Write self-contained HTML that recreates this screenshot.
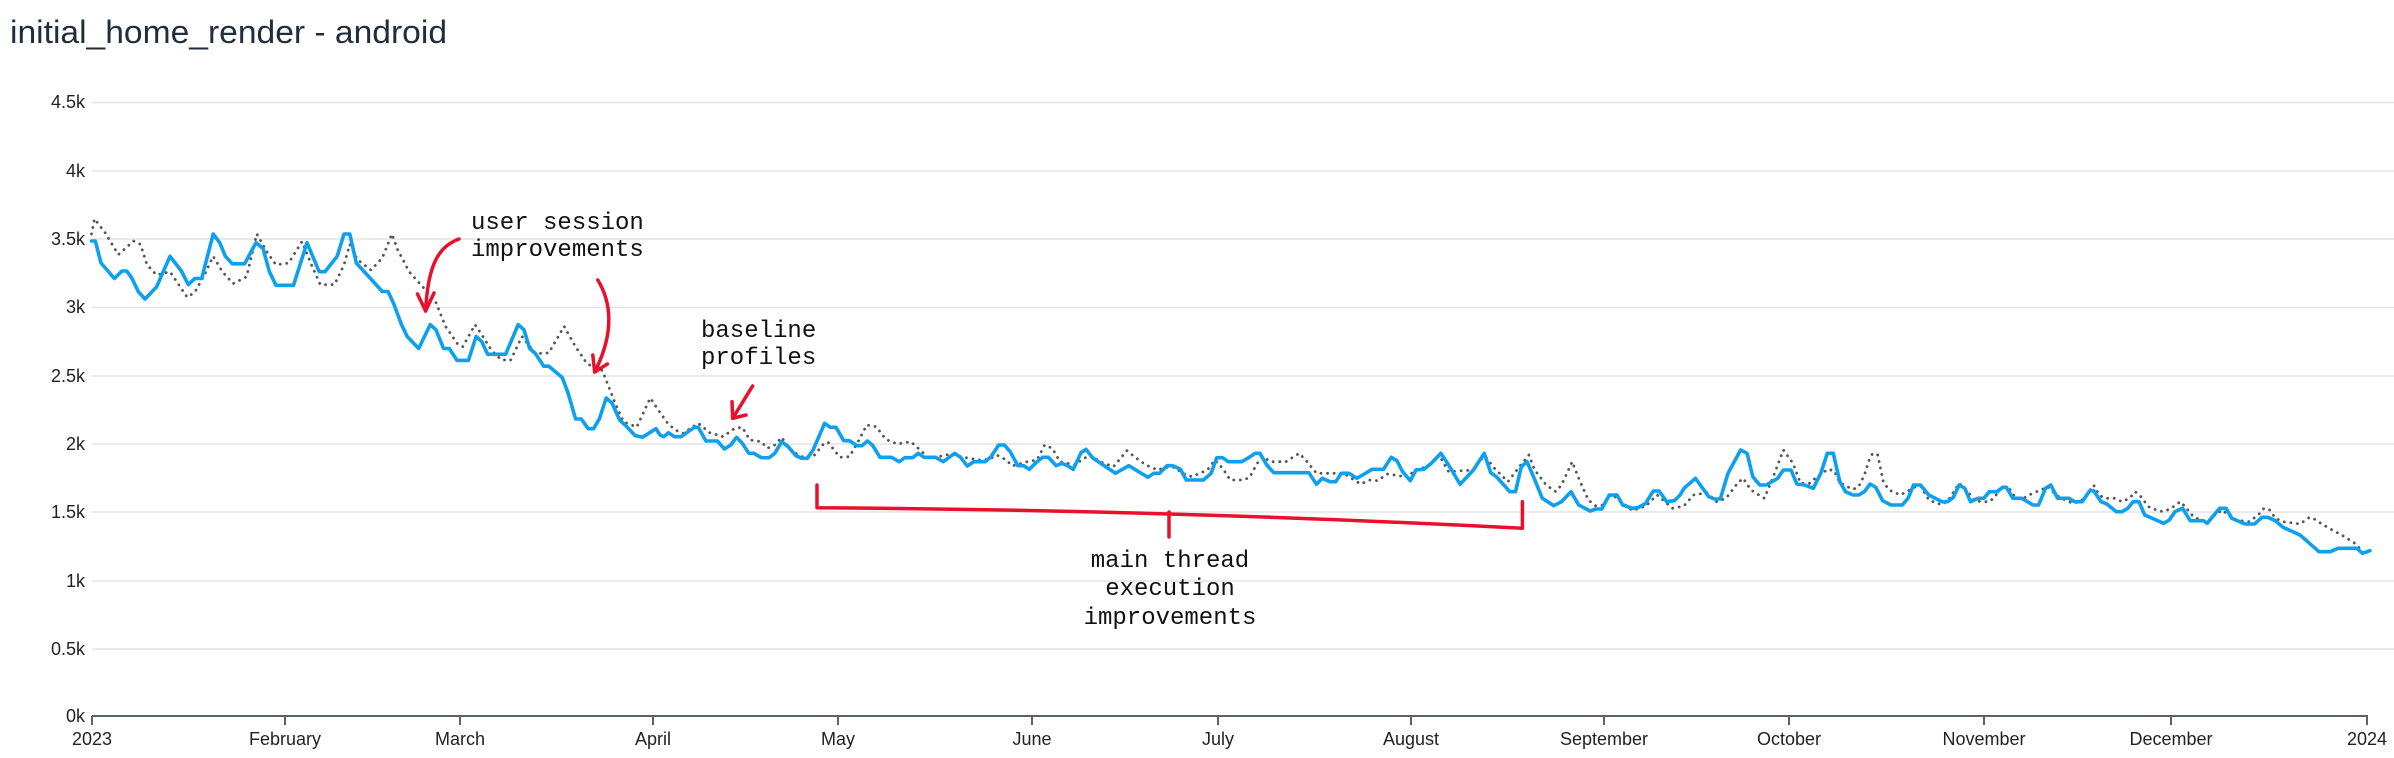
<!DOCTYPE html>
<html><head><meta charset="utf-8"><style>
html,body{margin:0;padding:0;background:#fff;}
svg{display:block;}
</style></head><body>
<svg width="2394" height="758" viewBox="0 0 2394 758" xmlns="http://www.w3.org/2000/svg">
<text x="10" y="43" font-family="Liberation Sans, DejaVu Sans, sans-serif" font-size="32" fill="#1f2d3d" textLength="437" lengthAdjust="spacingAndGlyphs">initial_home_render - android</text>
<g stroke="#e4e4e4" stroke-width="1.5">
<line x1="92" x2="2394" y1="102.5" y2="102.5"/>
<line x1="92" x2="2394" y1="171" y2="171"/>
<line x1="92" x2="2394" y1="239" y2="239"/>
<line x1="92" x2="2394" y1="307.5" y2="307.5"/>
<line x1="92" x2="2394" y1="376" y2="376"/>
<line x1="92" x2="2394" y1="444" y2="444"/>
<line x1="92" x2="2394" y1="512" y2="512"/>
<line x1="92" x2="2394" y1="581" y2="581"/>
<line x1="92" x2="2394" y1="649" y2="649"/>
</g>
<g font-family="Liberation Sans, DejaVu Sans, sans-serif" font-size="18" fill="#222" text-anchor="end">
<text x="85" y="108">4.5k</text>
<text x="85" y="177">4k</text>
<text x="85" y="245">3.5k</text>
<text x="85" y="313">3k</text>
<text x="85" y="382">2.5k</text>
<text x="85" y="450">2k</text>
<text x="85" y="518">1.5k</text>
<text x="85" y="587">1k</text>
<text x="85" y="655">0.5k</text>
<text x="85" y="722">0k</text>
</g>
<line x1="92" x2="2368" y1="716" y2="716" stroke="#5a6270" stroke-width="2"/>
<g stroke="#5a6270" stroke-width="2">
<line x1="92" x2="92" y1="716" y2="725"/><line x1="285" x2="285" y1="716" y2="725"/><line x1="460" x2="460" y1="716" y2="725"/><line x1="653" x2="653" y1="716" y2="725"/><line x1="838" x2="838" y1="716" y2="725"/><line x1="1032" x2="1032" y1="716" y2="725"/><line x1="1218" x2="1218" y1="716" y2="725"/><line x1="1411" x2="1411" y1="716" y2="725"/><line x1="1604" x2="1604" y1="716" y2="725"/><line x1="1789" x2="1789" y1="716" y2="725"/><line x1="1984" x2="1984" y1="716" y2="725"/><line x1="2171" x2="2171" y1="716" y2="725"/><line x1="2367" x2="2367" y1="716" y2="725"/>
</g>
<g font-family="Liberation Sans, DejaVu Sans, sans-serif" font-size="18" fill="#222" text-anchor="middle">
<text x="92" y="745">2023</text><text x="285" y="745">February</text><text x="460" y="745">March</text><text x="653" y="745">April</text><text x="838" y="745">May</text><text x="1032" y="745">June</text><text x="1218" y="745">July</text><text x="1411" y="745">August</text><text x="1604" y="745">September</text><text x="1789" y="745">October</text><text x="1984" y="745">November</text><text x="2171" y="745">December</text><text x="2367" y="745">2024</text>
</g>
<polyline fill="none" stroke="#555" stroke-width="2.8" stroke-linecap="round" stroke-dasharray="0.1 6.5" points="91.5,234 94.5,218.8 104.9,232.4 118.3,254.6 133.6,241 140.5,244.4 147,264.8 156.5,275 170,271.7 187.2,297.3 194.8,292.2 204.4,275 213.2,256.3 222.4,271.7 233.1,283.6 246.5,276.8 256.8,234 267.5,252.9 276,264.8 288.6,263.1 302,241.6 311.5,264.8 320.3,284.6 334.5,284.6 344,264.8 349.8,244.4 357.5,259.7 370.9,270 382.3,258 391.9,234 397.6,249.5 409.1,271.7 424.4,288.7 435.9,302.4 445.5,326.3 457,343.3 462.7,346.8 475,324.6 481.8,334.8 491.4,350.2 501,359.7 510.5,360.4 522,336.5 535.4,353.6 548.8,352.9 564.1,326.3 575.6,346.8 587.1,363.8 602.4,370.6 615.8,404.8 623.5,421.8 636.8,427 650.2,398 661.7,415 667.7,423.3 675.3,430 683,433.3 698.3,423.3 709.8,432.7 723.1,436.7 734.6,428.3 742.3,427.3 749.9,440 761.4,441.7 767.2,448.3 774.8,445 781.7,437.3 790.1,450 801.6,456.7 813.1,456.7 824.6,442.7 828.4,442.7 839.9,457.3 849.4,456.7 859,440 866.7,425 876.2,426.7 885.8,439.3 897.3,444 910.7,441.7 920.2,450 927.9,457.3 935.5,457.3 950.9,454 966.2,457.7 979.6,460 989.1,459.3 996.8,455 1006.3,460 1012.1,466 1027.4,461.7 1037,460 1044.6,445 1052.3,448.3 1059.9,461.7 1075.2,465 1081,460 1090.5,455 1100.1,461.7 1113.5,466.7 1126.9,450.7 1136.5,458.3 1146,465 1157.5,470 1165.2,467.3 1174.7,467.3 1182.4,473.3 1192,476.7 1207.3,470 1214.9,460 1222.6,468.3 1230.2,480 1243.6,480 1249.6,477.3 1257.2,463.3 1263,456.7 1270.6,461.7 1285.9,461.7 1299.3,453.3 1307,461.7 1316.5,473.3 1343.3,473.3 1360.6,484 1370.1,480 1377.8,480.7 1387.3,474 1408.4,477.3 1414.1,470 1427.5,466.7 1439,455 1448.6,471.7 1462,470.7 1473.4,470 1481.1,459.3 1484.9,456 1494.5,468.3 1507.9,481.7 1519.4,466.7 1528.9,455 1534.7,470 1546.2,485 1555.7,491.7 1561.5,485 1572.2,461.7 1578.7,478.3 1588.3,500 1595.9,506 1603.6,505 1611.2,494 1618.9,500 1632.3,510.7 1645.7,506 1657.2,495 1672.5,508.3 1683.9,506 1693.5,495 1706.9,492.7 1716.5,501.7 1726,498.3 1737.5,483.3 1743.2,478.3 1750.9,490 1764.3,498.3 1772,480 1783.4,450 1793,463.3 1800.6,483.3 1809.5,483.3 1815.2,478.3 1822.7,473.3 1827.3,469.3 1834.1,470.7 1839.8,482.7 1847.3,486.7 1853,489.3 1858.7,486.7 1864.4,475 1868.9,460.7 1872.7,453.3 1877.7,455 1883.3,481.7 1889,490 1900.4,495 1909.8,490 1915.5,486.7 1921.2,486.7 1928.8,500 1942,505 1949.6,498.3 1959.1,483.3 1966.7,490 1974.2,500.7 1981.8,501.7 1989.4,501.7 1995.1,496.7 2000.8,486.7 2008.3,487.3 2015.9,498.3 2023.5,498.3 2031.1,494 2040.5,490 2048.1,486.7 2055.7,495 2065.2,500 2072.7,503.3 2080.3,501.7 2087.9,493.3 2093.6,485 2099.2,495 2104.9,498.3 2114.4,498.3 2122,501.7 2129.5,498.3 2135.2,491.7 2140.9,496.7 2148.5,506.7 2158,510.7 2163.6,511.7 2171.2,508.3 2176.9,504 2180.7,501.7 2186.4,508.3 2193.9,517.3 2207.2,521.7 2212.9,516.7 2222.3,510 2228,515 2235.6,520 2248.9,521.7 2258.3,515 2264,508.3 2269.7,510 2275.4,518.3 2283,521.7 2300,524 2309.5,517.3 2313.3,518.3 2320.8,523.3 2332.2,530 2341.7,535 2354.9,543.3 2364.4,553.3 2370,550"/>
<polyline fill="none" stroke="#0ea0ef" stroke-width="3.6" stroke-linejoin="round" stroke-linecap="round" points="91.5,241 95.3,241 101,263 114.4,278.5 122,271 126.7,271 131.7,277.8 138.2,291.5 145,299 156.5,287 170,256.3 181.4,271 188.3,284.6 194.8,278.5 201.7,278.5 213.2,234 219.7,242.7 225.4,256.3 232.3,263.8 244.6,263.8 256,242.7 263,248.5 269.4,271.7 276,285.3 293.5,285.3 307,242.7 319.2,271.7 325,271.7 337.2,256.3 344,234 349.8,234 356.3,263 382.3,291.5 388,291.5 393.8,304 401.5,324.6 407.2,336.5 418.7,348.5 430.2,324.6 435.9,329.7 443.6,348.5 449.3,348.5 457,360.4 468.4,360.4 476.1,336.5 481.8,341.6 487.6,354.3 505.6,354.3 518.2,324.6 523.9,329.7 529.7,348.5 535.4,353.6 543.8,366.2 548.8,366.2 562.2,377.5 568,392.8 575.6,419 581.3,419 588.2,428.7 593.6,428.7 599.3,419 606.2,398 612,403 619.6,420 625.4,425.3 635,435.5 642.6,437.2 656,428.7 660,435 663.8,436.7 668.4,432.7 674.5,436.7 681,436.7 694.4,427.3 698.3,427.3 705.9,441 717.4,441 724.3,449 730.8,445 736.5,437.3 742.3,443.3 748.8,453.3 753.8,453.3 761.4,457.7 769.1,457.7 774.8,453.3 781.7,441.7 788.2,446.7 795.9,455.7 801.6,458.3 807.3,458.3 813.1,450 824.6,423.3 830.3,427.3 836,427.3 843.7,440.7 849.4,440.7 857.1,445.7 862,445.7 867.4,441 872.4,445 880,457.3 891.5,457.3 899.2,461.7 904.9,457.7 912.6,457.7 918.3,453.3 924.1,457.3 935.5,457.3 943.2,461.7 954.7,453.3 960.4,457.3 967.3,466 973.8,461.7 985.3,461.7 991,456.7 998.7,445 1004.4,445 1010.2,451.7 1017.8,465.7 1023.6,465.7 1029.3,469.3 1037,461.7 1042.7,457.3 1048.4,457.3 1056.1,465.7 1061.8,463.3 1067.6,465.7 1073.3,469.3 1081,452.7 1086,449.3 1092.5,457.7 1115.4,473.3 1128.8,465.7 1147.9,477.3 1153.7,473.3 1159.4,473.3 1167.1,465.7 1172.8,465.7 1180.5,469.3 1186.2,480 1203.4,480 1211.1,473.3 1216.8,457.7 1222.6,457.7 1228.3,461.7 1241.7,461.7 1247.7,458.3 1255.3,453.3 1259.9,453.3 1266.8,465 1273.7,472.7 1308.9,472.7 1316.5,484.3 1322.3,478.3 1329.9,481.7 1335.7,481.7 1341.4,473.3 1349.1,473.3 1356.7,478.3 1364.4,474 1372,469.3 1383.5,469.3 1391.2,457.3 1396.9,460.7 1402.6,471.7 1410.3,480.7 1416,470 1423.7,469.3 1431.4,463.3 1440.9,453.3 1448.6,465 1460.1,484.3 1473.4,470 1484.2,453.3 1490.7,472.7 1496.4,476.7 1509.8,491.7 1515.5,491.7 1521.3,466.7 1527,461.7 1532.8,475 1542.3,498.3 1553.8,505.7 1561.5,501.7 1571,491.7 1578.7,505 1590.2,511 1595.9,509 1601.7,509 1609.3,495 1617,495 1622.7,505 1632.3,508.3 1638,507.7 1645.7,503.3 1653.3,491 1659.1,491 1666.7,501.7 1674.4,500.7 1680.1,495 1684,488.3 1695.4,478.3 1708.8,496.7 1714.6,499 1720.3,499 1728,473.3 1740.6,450 1747.1,453.3 1752.8,476.7 1759.7,485 1766.2,485 1777.7,478.3 1783.4,470 1791.1,470 1796.8,484 1804.5,485 1813.3,488.3 1820.8,473.3 1827.3,453.3 1833.3,453.3 1839.8,481.7 1845.5,491.7 1853,495 1858.7,495 1864.4,491.7 1870.1,484 1875.8,487.3 1882.6,500.7 1890.9,505 1902.3,505 1908,498.3 1913.6,485 1920.5,485 1928.8,495 1942,501.7 1947.7,501.7 1953.4,497.3 1959.1,485 1964.8,488.3 1970.5,501.7 1978,498.3 1983.7,498.3 1989.4,491.7 1997,491.7 2002.7,487.3 2006.4,487.3 2012.9,498.3 2021.6,498.3 2033,505 2038.6,505 2045.5,488.3 2050.8,485 2057.6,498.3 2068.9,498.3 2074.6,501.7 2082.2,501.7 2089.8,490.7 2093.6,490.7 2101.1,501.7 2106.8,504 2116.3,511.7 2122,511.7 2127.7,508.3 2133.3,501.7 2139,501.7 2144.7,515 2163.6,523.3 2169.3,520 2175,511.7 2182.6,508.3 2190.2,520.7 2203.4,520.7 2207.2,523.3 2214.8,514 2219.7,508.3 2226.1,508.3 2231.8,518.3 2245.1,524 2254.5,524 2262.1,517.3 2267.8,517.3 2275.4,520.7 2283,527.3 2300,535 2309.5,543.3 2319,551.7 2330.3,551.7 2337.9,548.3 2356.8,548.3 2362.5,553.3 2370,550.7"/>
<g fill="none" stroke="#e8112d" stroke-width="3.5" stroke-linecap="round" stroke-linejoin="round">
<path d="M459,239 C440,246 428,262 425.6,311"/>
<path d="M417.5,294 L425.6,311 L434,293"/>
<path d="M597.8,280 C610,300 616,330 594.7,372"/>
<path d="M592.8,355 L594.7,372 L607.4,364"/>
<path d="M752.6,386 L732.7,418.3"/>
<path d="M732,401.7 L732.7,418.3 L746,415"/>
<path d="M817,485 L817,507.7 Q1170,510 1522.4,528.3 L1522.4,501.7"/>
<path d="M1169,512 L1169,537"/>
</g>
<g font-family="Liberation Mono, DejaVu Sans Mono, monospace" font-size="24" fill="#111">
<text x="471" y="229">user session</text>
<text x="471" y="256">improvements</text>
<text x="701" y="337">baseline</text>
<text x="701" y="364">profiles</text>
<text x="1170" y="567" text-anchor="middle">main thread</text>
<text x="1170" y="595" text-anchor="middle">execution</text>
<text x="1170" y="624" text-anchor="middle">improvements</text>
</g>
</svg>
</body></html>
